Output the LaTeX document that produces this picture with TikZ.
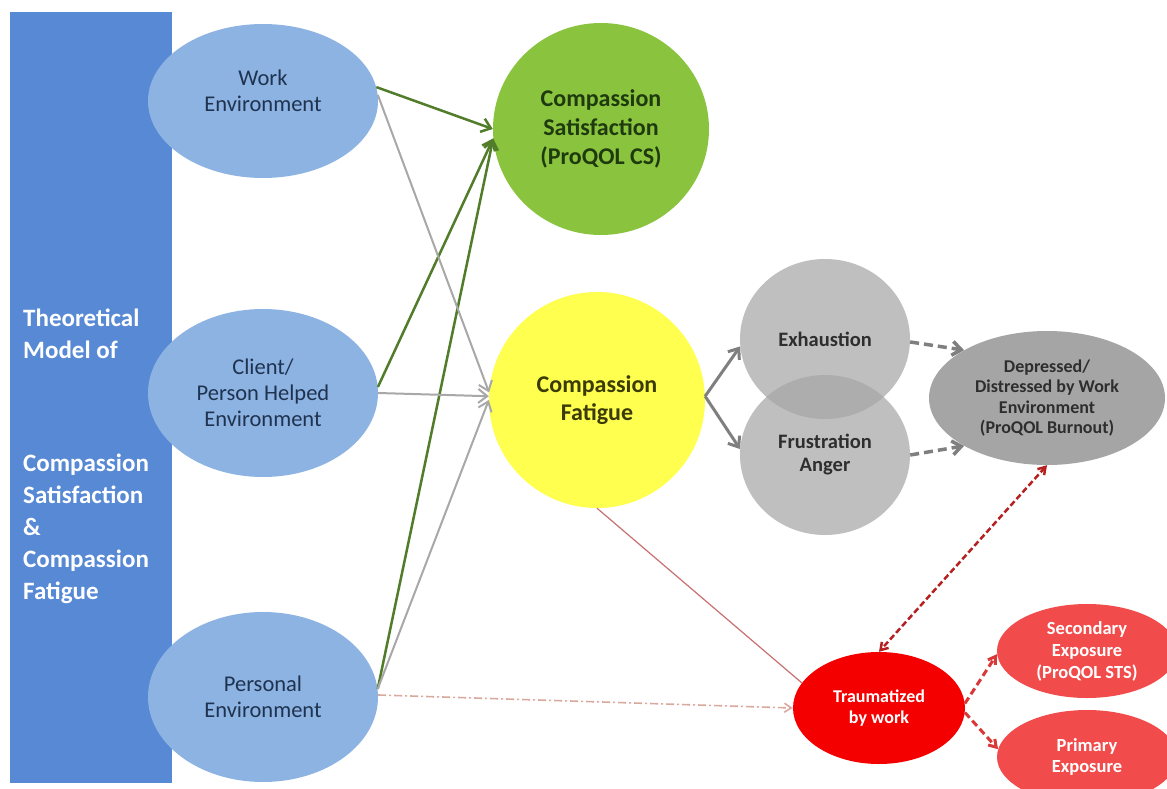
\documentclass[tikz,border=0pt]{standalone}
\usepackage{fontspec}
\setmainfont{Carlito}
\usetikzlibrary{shapes.geometric,arrows.meta}

\definecolor{modelblue}{HTML}{5789D5}
\definecolor{envblue}{HTML}{8DB3E2}
\definecolor{envtext}{HTML}{1F3350}
\definecolor{csgreen}{HTML}{8AC43E}
\definecolor{cstext}{HTML}{1E3A0E}
\definecolor{cfyellow}{HTML}{FFFF4F}
\definecolor{cftext}{HTML}{3B3B08}
\definecolor{lightgrey}{HTML}{BFBFBF}
\definecolor{overlapgrey}{HTML}{ADADAD}
\definecolor{darkgrey}{HTML}{A5A5A5}
\definecolor{greytext}{HTML}{2E2E2E}
\definecolor{traured}{HTML}{F50000}
\definecolor{exposred}{HTML}{F24B4B}
\definecolor{garrowc}{HTML}{517C2A}
\definecolor{grarrowc}{HTML}{A8A8A8}
\definecolor{cfarrowc}{HTML}{7F7F7F}
\definecolor{reddash}{HTML}{B52020}
\definecolor{expdash}{HTML}{D83838}
\definecolor{thinred}{HTML}{C87070}
\definecolor{dashdotc}{HTML}{D9A89E}

\begin{document}
\begin{tikzpicture}[x=1pt,y=-1pt,
  bubble/.style={ellipse,inner sep=0pt,align=center},
  envfont/.style={font=\fontsize{22.5}{26}\selectfont},
  envnode/.style={bubble,fill=envblue,minimum width=230pt,text=envtext,envfont},
  greynode/.style={bubble,fill=lightgrey,minimum width=170pt,minimum height=160pt,
    text=greytext,font=\bfseries\fontsize{20.5}{23}\selectfont},
  sidetext/.style={anchor=west,align=left,text=white,inner sep=0pt,
    font=\bfseries\fontsize{25}{32}\selectfont},
  openhead/.tip={Straight Barb[length=9pt,width=14pt]},
  smallhead/.tip={Straight Barb[length=7pt,width=9pt]},
  garrow/.style={draw=garrowc,line width=2.5pt,-openhead},
  grarrow/.style={draw=grarrowc,line width=2pt,-openhead},
  cfarrow/.style={draw=cfarrowc,line width=3pt,-openhead},
  greydash/.style={draw=cfarrowc,line width=3.5pt,dash pattern=on 9pt off 5pt,-openhead},
  reddouble/.style={draw=reddash,line width=2.5pt,dash pattern=on 6pt off 3pt,smallhead-smallhead},
  expoarrow/.style={draw=expdash,line width=3pt,dash pattern=on 7pt off 4pt,-smallhead},
  thinline/.style={draw=thinred,line width=1.2pt},
  dashdot/.style={draw=dashdotc,line width=1.6pt,dash pattern=on 8pt off 3pt on 2pt off 3pt,-smallhead}
]
\useasboundingbox (0,0) rectangle (1167,789);
\clip (0,0) rectangle (1167,789);
\fill[white] (0,0) rectangle (1167,789);

% title bar on the left
\node[rectangle,fill=modelblue,inner sep=0pt,minimum width=162pt,minimum height=771pt]
  (model) at (91,397.5) {};
\node[sidetext] (title1) at (23,334) {Theoretical\\Model of};
\node[sidetext] (title2) at (23,529) {Compassion\\Satisfaction\\\&\\Compassion\\Fatigue};

% environments
\node[envnode,minimum height=154pt] (we) at (263,101) {};
\node[text=envtext,align=center,envfont] (wetext) at (263,91) {Work\\Environment};
\node[envnode,minimum height=168pt] (cl) at (263,393) {Client/\\Person Helped\\Environment};
\node[envnode,minimum height=170pt] (pe) at (263,697) {Personal\\Environment};

% outcomes
\node[bubble,fill=csgreen,minimum width=216pt,minimum height=212pt,text=cstext,
  font=\bfseries\fontsize{24}{29}\selectfont] (cs) at (601,129)
  {Compassion\\Satisfaction\\(ProQOL CS)};
\node[bubble,fill=cfyellow,minimum width=216pt,minimum height=216pt,text=cftext,
  font=\bfseries\fontsize{24}{28}\selectfont] (cf) at (597,400)
  {Compassion\\Fatigue};

% burnout branch
\node[greynode] (ex) at (825,339) {Exhaustion};
\node[greynode] (fr) at (825,455) {Frustration\\Anger};
\begin{scope}
  \clip (825,339) ellipse [x radius=85, y radius=80];
  \fill[overlapgrey] (825,455) ellipse [x radius=85, y radius=80];
\end{scope}
\node[bubble,fill=darkgrey,minimum width=236pt,minimum height=134pt,text=greytext,
  font=\bfseries\fontsize{18}{20.5}\selectfont] (dep) at (1047,398)
  {Depressed/\\Distressed by Work\\Environment\\(ProQOL Burnout)};

% trauma branch
\node[bubble,fill=traured,minimum width=172pt,minimum height=112pt,text=white,
  font=\bfseries\fontsize{18}{21}\selectfont] (tr) at (879,708) {Traumatized\\by work};
\node[bubble,fill=exposred,minimum width=180pt,minimum height=94pt,text=white,
  font=\bfseries\fontsize{18.5}{22}\selectfont] (sec) at (1087,651)
  {Secondary\\Exposure\\(ProQOL STS)};
\node[bubble,fill=exposred,minimum width=180pt,minimum height=94pt,text=white,
  font=\bfseries\fontsize{18.5}{21}\selectfont] (pri) at (1087,757)
  {Primary\\Exposure};

% environments to compassion satisfaction
\draw[garrow] (we.7) -- (cs.180);
\draw[garrow] (cl.3) -- (cs.185);
\draw[garrow] (pe.4) -- (cs.185);

% environments to compassion fatigue
\draw[grarrow] (we.3) -- (cf.176);
\draw[grarrow] (cl.0) -- (cf.178);
\draw[grarrow] (pe.4) -- (cf.180);

% personal environment to trauma
\draw[dashdot] (pe.1) -- (tr.west);

% compassion fatigue to burnout
\draw[cfarrow] (cf.2) -- (ex.185);
\draw[cfarrow] (cf.2) -- (fr.176);
\draw[greydash] (ex.-2) -- (dep.150);
\draw[greydash] (fr.0) -- (dep.210);

% compassion fatigue to trauma
\draw[thinline] (cf.south) -- (tr.162);
\draw[reddouble] (dep.south) -- (tr.north);
\draw[expoarrow] (tr.3) -- (sec.182);
\draw[expoarrow] (tr.-3) -- (pri.175);
\end{tikzpicture}
\end{document}
